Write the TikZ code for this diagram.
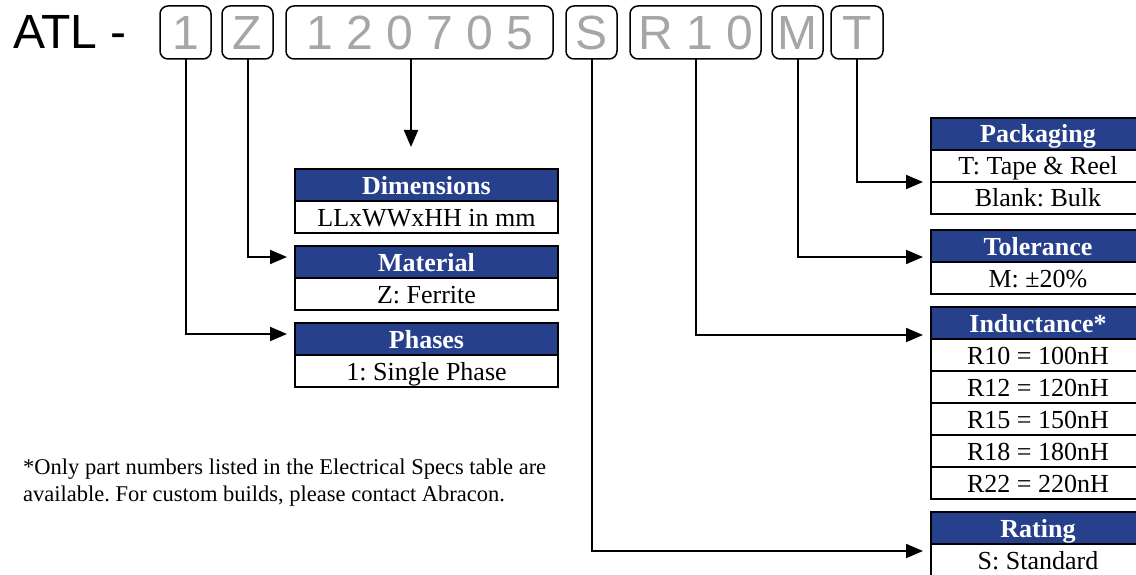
\documentclass[tikz,border=0pt]{standalone}
\usepackage{fontspec}
\setmainfont{Liberation Serif}
\newfontfamily\codefont{Liberation Sans}
\usetikzlibrary{arrows.meta,positioning}
\definecolor{hdrblue}{RGB}{39,64,140}
\definecolor{codegray}{RGB}{166,166,166}
\frenchspacing

\begin{document}
\begin{tikzpicture}[x=1pt,y=-1pt,
    codebox/.style={draw, rounded corners=8pt, line width=1.5pt, minimum height=53pt,
      inner sep=0pt, outer sep=0pt, text=codegray,
      font=\codefont\fontsize{48}{48}\selectfont, text height=34pt, text depth=0pt},
    hdr/.style={draw, line width=2pt, fill=hdrblue, text=white,
      font=\fontsize{26}{30}\selectfont\bfseries, minimum height=32pt,
      inner sep=0pt, outer sep=0pt, text height=20pt, text depth=2pt},
    cell/.style={draw, line width=2pt, fill=white,
      font=\fontsize{26}{30}\selectfont, minimum height=32pt,
      inner sep=0pt, outer sep=0pt, text height=20pt, text depth=2pt},
    lcol/.style={minimum width=263pt},
    rcol/.style={minimum width=214pt},
    conn/.style={line width=2pt, -{Triangle[length=17pt,width=14pt]}, shorten >=8pt}
  ]
  \useasboundingbox (0,0) rectangle (1136,575);
  \clip (0,0) rectangle (1136,575);

  % part number
  \node[anchor=base west, inner sep=0pt, font=\codefont\fontsize{48}{48}\selectfont] (atl) at (13,49) {ATL -};
  \node[codebox, minimum width=51pt] (b1) at (185.5,32.5) {1};
  \node[codebox, minimum width=51pt, right=11pt of b1] (bZ) {Z};
  \node[codebox, minimum width=267pt, right=13pt of bZ] (b3) {1 2 0 7 0 5};
  \node[codebox, minimum width=51pt, right=13pt of b3] (bS) {S};
  \node[codebox, minimum width=131pt, right=13pt of bS] (bR) {R 1 0};
  \node[codebox, minimum width=51pt, right=11pt of bR] (bM) {M};
  \node[codebox, minimum width=52pt, right=8pt of bM] (bT) {T};

  % left tables
  \node[hdr, lcol, anchor=north west] (dimH) at (295,169) {Dimensions};
  \node[cell, lcol, below=0pt of dimH] (dimB) {LLxWWxHH in mm};
  \node[hdr, lcol, below=13pt of dimB] (matH) {Material};
  \node[cell, lcol, below=0pt of matH] (matB) {Z: Ferrite};
  \node[hdr, lcol, below=13pt of matB] (phH) {Phases};
  \node[cell, lcol, below=0pt of phH] (phB) {1: Single Phase};

  % right tables
  \node[hdr, rcol, anchor=north west] (packH) at (931,118) {Packaging};
  \node[cell, rcol, below=0pt of packH] (packT) {T: Tape \& Reel};
  \node[cell, rcol, below=0pt of packT] (packB) {Blank: Bulk};
  \node[hdr, rcol, below=16pt of packB] (tolH) {Tolerance};
  \node[cell, rcol, below=0pt of tolH] (tolB) {M: ±20\%};
  \node[hdr, rcol, below=13pt of tolB] (indH) {Inductance*};
  \foreach \r [count=\i] in {10,12,15,18,22}
    \node[cell, rcol, anchor=north west] (ind\i) at (931,{307+32*\i}) {R\r{} = \r0nH};
  \node[hdr, rcol, below=13pt of ind5] (ratH) {Rating};
  \node[cell, rcol, below=0pt of ratH] (ratB) {S: Standard};

  % footnote
  \node[align=left, anchor=north west, inner sep=0pt, font=\fontsize{22.5}{27}\selectfont] (note) at (23,459)
    {*Only part numbers listed in the Electrical Specs table are\\available. For custom builds, please contact Abracon.};

  % connectors
  \coordinate (dimTip) at (411,147);
  \draw[conn] (b1.south) |- ([yshift=5pt]phH.west);
  \draw[conn] (bZ.south) |- ([yshift=5pt]matH.west);
  \draw[conn, shorten >=0pt] (dimTip |- b3.south) -- (dimTip);
  \draw[conn] (bS.south) |- ([yshift=9pt]ratB.west);
  \draw[conn] (bR.south) |- ([yshift=-12pt]indH.west);
  \draw[conn] (bM.south) |- ([yshift=-11pt]tolH.west);
  \draw[conn] (bT.south) |- (packT.south west);
\end{tikzpicture}
\end{document}
